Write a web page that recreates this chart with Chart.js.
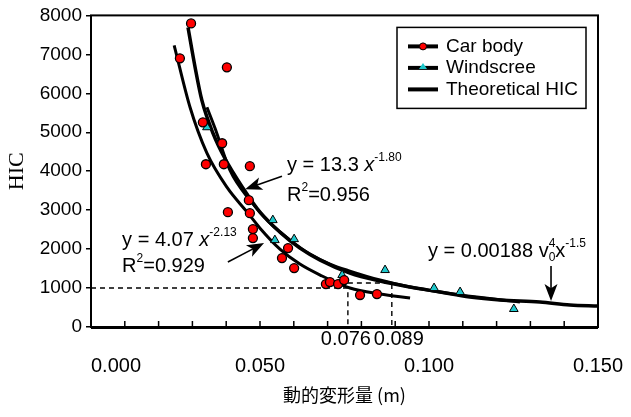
<!DOCTYPE html>
<html>
<head>
<meta charset="utf-8">
<script src="https://cdn.jsdelivr.net/npm/chart.js@4.4.1/dist/chart.umd.min.js"></script>
<style>
    body { margin: 0; background: #fff; }
    #hicChart { display: block; }
</style>
</head>
<body>
<canvas id="hicChart" width="631" height="417"></canvas>
<script>
// deformation (m) / HIC values
var carBodyDeform = [0.0296, 0.0263, 0.0402, 0.0331, 0.0388, 0.0340, 0.0393, 0.0470, 0.0467, 0.0405, 0.0470, 0.0479, 0.0479, 0.0583, 0.0565, 0.0601, 0.0695, 0.0707, 0.0731, 0.0749, 0.0796, 0.0846];
var carBodyHic    = [7795, 6897, 6667, 5256, 4718, 4179, 4179, 4128, 3256, 2949, 2923, 2513, 2282, 2026, 1769, 1513, 1103, 1154, 1103, 1205, 821, 846];

var windDeform = [0.0343, 0.0538, 0.0544, 0.0601, 0.0743, 0.0870, 0.1015, 0.1092, 0.1251];
var windHic    = [5128, 2744, 2231, 2256, 1333, 1462, 1000, 897, 462];

var theoryDeform = [0.0287, 0.0308, 0.0328, 0.0361, 0.0396, 0.0450, 0.0500, 0.0559, 0.0618, 0.0678, 0.0766, 0.0855, 0.0944, 0.1033, 0.1121, 0.1210, 0.1328, 0.1417, 0.1500];
var theoryHic    = [7692, 6667, 5821, 4974, 4333, 3564, 2949, 2436, 2026, 1718, 1385, 1179, 1026, 897, 769, 692, 641, 564, 538];

var carFitDeform = [0.0246, 0.0293, 0.0343, 0.0402, 0.0462, 0.0500, 0.0559, 0.0618, 0.0678, 0.0766, 0.0855, 0.0944];
var carFitHic    = [7231, 5641, 4462, 3590, 2949, 2538, 2000, 1615, 1333, 1000, 846, 744];

var windFitDeform = [0.0343, 0.0367, 0.0411, 0.0470, 0.0530, 0.0589, 0.0648, 0.0707, 0.0766, 0.0855, 0.0944, 0.1092, 0.1269];
var windFitHic    = [5641, 5103, 4026, 3256, 2667, 2231, 1872, 1615, 1436, 1205, 1026, 821, 641];

var guideDeform = [0.076, 0.089];
var guideHic = [1000, 1130];

var xTickValues = [0, 0.05, 0.1, 0.15];
var xTickLabels = ['0.000', '0.050', '0.100', '0.150'];

var FONT = 'Arial, "Liberation Sans", sans-serif';

function pts(xs, ys) {
    return xs.map(function(x, i) { return { x: x, y: ys[i] }; });
}

function curve(label, xs, ys, width) {
    return {
        label: label,
        data: pts(xs, ys),
        showLine: true,
        borderColor: '#000',
        borderWidth: width,
        pointRadius: 0,
        cubicInterpolationMode: 'monotone',
        fill: false
    };
}

function guide(data) {
    return {
        data: data,
        showLine: true,
        borderColor: '#000',
        borderWidth: 1.4,
        borderDash: [5, 4],
        pointRadius: 0,
        tension: 0
    };
}

// text with super/subscripts
function drawRich(ctx, parts, x, y) {
    ctx.textAlign = 'left';
    ctx.textBaseline = 'alphabetic';
    parts.forEach(function(p) {
        var size = (p.sup || p.sub) ? 12 : 20;
        ctx.font = (p.italic ? 'italic ' : '') + size + 'px ' + FONT;
        var dy = p.sup ? -10 : (p.sub ? 4 : 0);
        ctx.fillText(p.t, x, y + dy);
        if (!p.stack) x += ctx.measureText(p.t).width;
    });
}

function arrow(ctx, x1, y1, x2, y2) {
    var a = Math.atan2(y2 - y1, x2 - x1);
    var len = 17, w = 6.5;
    var c = Math.cos(a), s = Math.sin(a);
    ctx.beginPath();
    ctx.moveTo(x1, y1);
    ctx.lineTo(x2 - c * len * 0.7, y2 - s * len * 0.7);
    ctx.lineWidth = 1.6;
    ctx.strokeStyle = '#000';
    ctx.stroke();
    ctx.beginPath();
    ctx.moveTo(x2, y2);
    ctx.lineTo(x2 - c * len - s * w, y2 - s * len + c * w);
    ctx.lineTo(x2 - c * len * 0.75, y2 - s * len * 0.75);
    ctx.lineTo(x2 - c * len + s * w, y2 - s * len - c * w);
    ctx.closePath();
    ctx.fillStyle = '#000';
    ctx.fill();
}

var notes = [
    { x: 0.058, y: 4000, parts: [{ t: 'y = 13.3 ' }, { t: 'x', italic: true }, { t: '-1.80', sup: true }] },
    { x: 0.058, y: 3231, parts: [{ t: 'R' }, { t: '2', sup: true }, { t: '=0.956' }] },
    { x: 0.0092, y: 2077, parts: [{ t: 'y = 4.07 ' }, { t: 'x', italic: true }, { t: '-2.13', sup: true }] },
    { x: 0.0092, y: 1410, parts: [{ t: 'R' }, { t: '2', sup: true }, { t: '=0.929' }] },
    { x: 0.0997, y: 1795, parts: [{ t: 'y = 0.00188 v' }, { t: '0', sub: true, stack: true }, { t: '4', sup: true }, { t: 'x' }, { t: '-1.5', sup: true }] }
];

var arrows = [
    [0.0565, 3872, 0.0456, 3538],
    [0.0405, 1667, 0.0512, 2154],
    [0.1361, 1564, 0.1361, 667]
];

var framePlugin = {
    id: 'frame',
    afterDraw: function(chart) {
        var ctx = chart.ctx, area = chart.chartArea;
        var xs = chart.scales.x, ys = chart.scales.y;
        ctx.save();

        // plot box
        ctx.strokeStyle = '#000';
        ctx.lineWidth = 2;
        ctx.strokeRect(area.left, area.top, area.right - area.left, area.bottom - area.top);
        ctx.lineWidth = 3;
        ctx.beginPath();
        ctx.moveTo(area.left, area.bottom + 0.5);
        ctx.lineTo(area.right, area.bottom + 0.5);
        ctx.stroke();

        // inward minor ticks on x
        ctx.lineWidth = 1.5;
        for (var i = 1; i < 15; i++) {
            var px = xs.getPixelForValue(i / 100);
            ctx.beginPath();
            ctx.moveTo(px, area.bottom);
            ctx.lineTo(px, area.bottom - 6);
            ctx.stroke();
        }

        // x labels, two rows
        ctx.fillStyle = '#000';
        ctx.font = '20px ' + FONT;
        ctx.textBaseline = 'alphabetic';
        xTickValues.forEach(function(v, i) {
            ctx.textAlign = i === 0 ? 'left' : 'center';
            ctx.fillText(xTickLabels[i], xs.getPixelForValue(v), area.bottom + 45);
        });
        // the two guide labels sit side by side
        ctx.textAlign = 'right';
        ctx.fillText(guideDeform[0].toFixed(3), xs.getPixelForValue(guideDeform[0]) + 23, area.bottom + 18);
        ctx.textAlign = 'left';
        ctx.fillText(guideDeform[1].toFixed(3), xs.getPixelForValue(guideDeform[1]) - 18, area.bottom + 18);

        // equations and arrows
        notes.forEach(function(n) {
            drawRich(ctx, n.parts, xs.getPixelForValue(n.x), ys.getPixelForValue(n.y));
        });
        arrows.forEach(function(a) {
            arrow(ctx, xs.getPixelForValue(a[0]), ys.getPixelForValue(a[1]), xs.getPixelForValue(a[2]), ys.getPixelForValue(a[3]));
        });

        // legend
        var lx = area.right - 201, ly = area.top + 12;
        ctx.fillStyle = '#fff';
        ctx.fillRect(lx, ly, 189, 81);
        ctx.strokeStyle = '#000';
        ctx.lineWidth = 1.5;
        ctx.strokeRect(lx, ly, 189, 81);
        var sets = chart.data.datasets.slice(0, 3);
        sets.forEach(function(ds, i) {
            var yy = ly + 19 + i * 21.5;
            ctx.lineWidth = 4;
            ctx.strokeStyle = '#000';
            ctx.beginPath();
            ctx.moveTo(lx + 11, yy);
            ctx.lineTo(lx + 41, yy);
            ctx.stroke();
            if (ds.pointStyle === 'circle') {
                ctx.beginPath();
                ctx.arc(lx + 26, yy, 3.5, 0, Math.PI * 2);
                ctx.fillStyle = ds.backgroundColor;
                ctx.fill();
                ctx.lineWidth = 1;
                ctx.stroke();
            } else if (ds.pointStyle === 'triangle') {
                ctx.beginPath();
                ctx.moveTo(lx + 26, yy - 5);
                ctx.lineTo(lx + 30, yy + 1);
                ctx.lineTo(lx + 22, yy + 1);
                ctx.closePath();
                ctx.fillStyle = ds.backgroundColor;
                ctx.fill();
            }
            ctx.fillStyle = '#000';
            ctx.font = '19px ' + FONT;
            ctx.textAlign = 'left';
            ctx.textBaseline = 'middle';
            ctx.fillText(ds.label, lx + 49, yy);
        });
        ctx.restore();
    }
};

new Chart(document.getElementById('hicChart'), {
    type: 'scatter',
    data: {
        datasets: [
            {
                label: 'Car body',
                data: pts(carBodyDeform, carBodyHic),
                pointStyle: 'circle',
                pointRadius: 4.5,
                backgroundColor: '#ff0000',
                borderColor: '#000',
                borderWidth: 1.3
            },
            {
                label: 'Windscree',
                data: pts(windDeform, windHic),
                pointStyle: 'triangle',
                pointRadius: 5,
                backgroundColor: '#1ec8cc',
                borderColor: '#000',
                borderWidth: 1
            },
            curve('Theoretical HIC', theoryDeform, theoryHic, 3.5),
            curve('car body fit', carFitDeform, carFitHic, 3),
            curve('windscreen fit', windFitDeform, windFitHic, 3),
            guide([{ x: 0, y: guideHic[0] }, { x: guideDeform[0], y: guideHic[0] }, { x: guideDeform[0], y: 0 }]),
            guide([{ x: guideDeform[0], y: guideHic[1] }, { x: guideDeform[1], y: guideHic[1] }, { x: guideDeform[1], y: 0 }])
        ]
    },
    options: {
        responsive: false,
        animation: false,
        layout: {
            padding: { top: 14, right: 33, left: 0, bottom: 0 }
        },
        plugins: {
            legend: { display: false },
            tooltip: { enabled: false }
        },
        scales: {
            x: {
                type: 'linear',
                min: 0,
                max: 0.15,
                afterFit: function(scale) { scale.height = 90; },
                ticks: { display: false },
                grid: { display: false },
                border: { display: false },
                title: {
                    display: true,
                    text: '動的変形量 (m)',
                    color: '#000',
                    font: { family: '"Noto Sans CJK JP", ' + FONT, size: 18 },
                    padding: { top: 0, bottom: 11 }
                }
            },
            y: {
                min: 0,
                max: 8000,
                afterFit: function(scale) { scale.width = 91; },
                ticks: {
                    stepSize: 1000,
                    color: '#000',
                    padding: 4,
                    font: { family: FONT, size: 19 },
                    callback: function(value) { return String(value); }
                },
                grid: {
                    drawOnChartArea: false,
                    drawTicks: true,
                    tickLength: 5,
                    color: '#000',
                    lineWidth: 1.5
                },
                border: { display: false },
                title: {
                    display: true,
                    text: 'HIC',
                    color: '#000',
                    font: { family: '"Times New Roman", "Liberation Serif", serif', size: 22 },
                    padding: { top: 4, bottom: 0 }
                }
            }
        }
    },
    plugins: [framePlugin]
});
</script>
</body>
</html>
